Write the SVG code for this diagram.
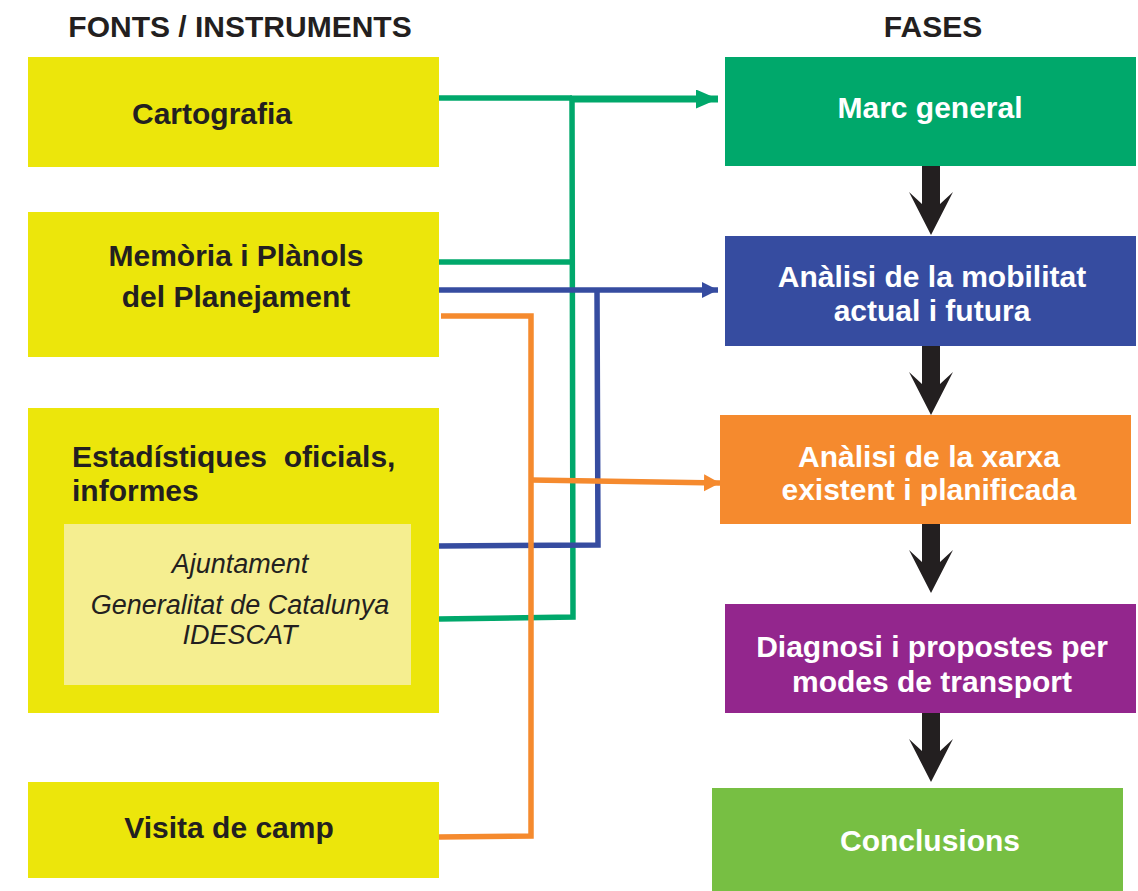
<svg xmlns="http://www.w3.org/2000/svg" width="1138" height="891" viewBox="0 0 1138 891">
<style>
  .src { fill: #ECE60B; }
  .inner { fill: #F5EE90; }
  .t { font-family: "Liberation Sans", Arial, sans-serif; }
  .hd { font-size: 30px; font-weight: bold; fill: #231F20; }
  .lbl { font-size: 30px; font-weight: bold; fill: #231F20; }
  .wl { font-size: 30px; font-weight: bold; fill: #FFFFFF; text-anchor: middle; }
  .it { font-size: 27px; font-style: italic; fill: #231F20; text-anchor: middle; }
  .g { stroke: #00A86B; fill: none; stroke-width: 5.5; stroke-linejoin: miter; }
  .b { stroke: #364CA0; fill: none; stroke-width: 5.5; }
  .o { stroke: #F58A2E; fill: none; stroke-width: 5.5; }
  .down { fill: #231F20; }
</style>
<defs>
  <marker id="mg" markerUnits="userSpaceOnUse" markerWidth="23" markerHeight="20" refX="22" refY="9.5" orient="auto">
    <path d="M0,0 L22,9.5 L0,19 Z" fill="#00A86B"/>
  </marker>
  <marker id="mb" markerUnits="userSpaceOnUse" markerWidth="17" markerHeight="17" refX="16" refY="8" orient="auto">
    <path d="M0,0 L16,8 L0,16 Z" fill="#364CA0"/>
  </marker>
  <marker id="mo" markerUnits="userSpaceOnUse" markerWidth="17" markerHeight="18" refX="16" refY="8.5" orient="auto">
    <path d="M0,0 L16,8.5 L0,17 Z" fill="#F58A2E"/>
  </marker>
  <path id="darrow" d="M-9,0 L9,0 L9,38 L22,26 L0,69 L-22,26 L-9,38 Z"/>
</defs>
<rect width="1138" height="891" fill="#FFFFFF"/>

<text class="t hd" x="240" y="37" text-anchor="middle">FONTS / INSTRUMENTS</text>
<text class="t hd" x="933" y="37" text-anchor="middle">FASES</text>

<g id="cartografia">
  <rect class="src" x="28" y="57" width="411" height="110"/>
  <text class="t lbl" x="132" y="124">Cartografia</text>
</g>
<g id="memoria">
  <rect class="src" x="28" y="212" width="411" height="145"/>
  <text class="t lbl" x="236" y="266" text-anchor="middle">Memòria i Plànols</text>
  <text class="t lbl" x="236" y="307" text-anchor="middle">del Planejament</text>
</g>
<g id="estadistiques">
  <rect class="src" x="28" y="408" width="411" height="305"/>
  <text class="t lbl" x="72" y="467" xml:space="preserve">Estadístiques  oficials,</text>
  <text class="t lbl" x="72" y="501">informes</text>
  <rect class="inner" x="64" y="524" width="347" height="161"/>
  <text class="t it" x="240" y="573">Ajuntament</text>
  <text class="t it" x="240" y="614">Generalitat de Catalunya</text>
  <text class="t it" x="240" y="644">IDESCAT</text>
</g>
<g id="visita">
  <rect class="src" x="28" y="782" width="411" height="96"/>
  <text class="t lbl" x="229" y="838" text-anchor="middle">Visita de camp</text>
</g>

<g id="marc">
  <rect x="725" y="57" width="411" height="109" fill="#00A86B"/>
  <text class="t wl" x="930" y="118">Marc general</text>
</g>
<g id="mobilitat">
  <rect x="725" y="236" width="411" height="110" fill="#364CA0"/>
  <text class="t wl" x="932" y="287">Anàlisi de la mobilitat</text>
  <text class="t wl" x="932" y="321">actual i futura</text>
</g>
<g id="xarxa">
  <rect x="720" y="415" width="411" height="109" fill="#F58A2E"/>
  <text class="t wl" x="929" y="467">Anàlisi de la xarxa</text>
  <text class="t wl" x="929" y="500">existent i planificada</text>
</g>
<g id="diagnosi">
  <rect x="725" y="604" width="411" height="109" fill="#93268D"/>
  <text class="t wl" x="932" y="657">Diagnosi i propostes per</text>
  <text class="t wl" x="932" y="692">modes de transport</text>
</g>
<g id="conclusions">
  <rect x="712" y="788" width="411" height="103" fill="#77BF43"/>
  <text class="t wl" x="930" y="851">Conclusions</text>
</g>

<g id="connectors">
  <!-- green -->
  <polyline class="g" points="439,98 572,98"/>
  <polyline class="g" points="439,262 572,262"/>
  <polyline class="g" points="439,619 573,617 572,97"/>
  <line class="g" x1="570" y1="99" x2="718" y2="99" style="stroke-width:7" marker-end="url(#mg)"/>
  <!-- blue -->
  <line class="b" x1="439" y1="290" x2="718" y2="290" marker-end="url(#mb)"/>
  <polyline class="b" points="439,546 598,545 597,290"/>
  <!-- orange -->
  <polyline class="o" points="441,316 531,316 531,836 439,837"/>
  <polyline class="o" points="531,480 720,483" marker-end="url(#mo)"/>
  <!-- phase arrows -->
  <use href="#darrow" class="down" x="931" y="166"/>
  <use href="#darrow" class="down" x="931" y="346"/>
  <use href="#darrow" class="down" x="931" y="524"/>
  <use href="#darrow" class="down" x="931" y="713"/>
</g>
</svg>
